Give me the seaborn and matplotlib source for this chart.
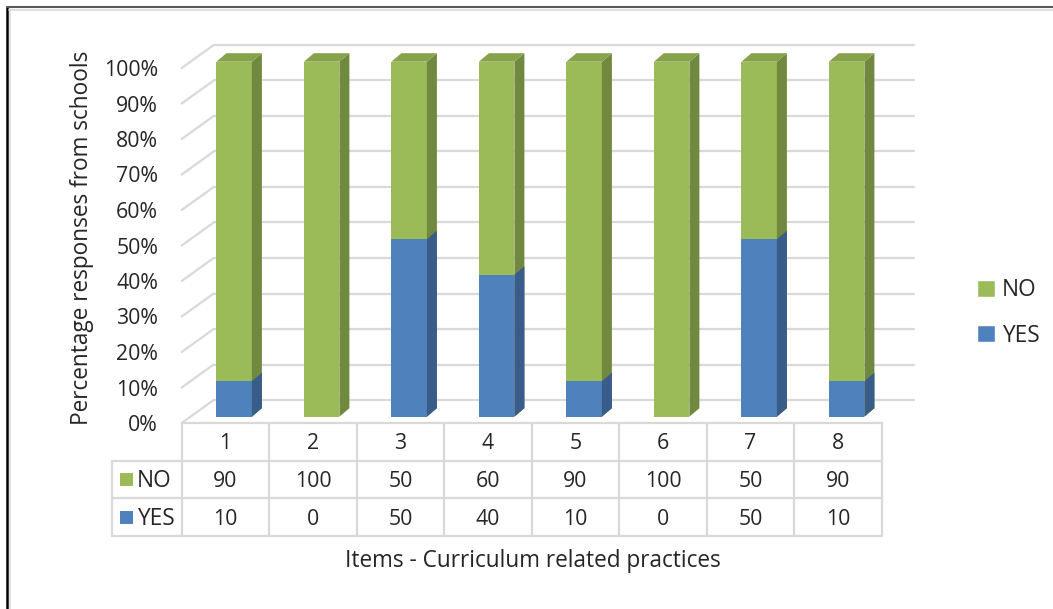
import matplotlib
matplotlib.use("Agg")
import matplotlib.pyplot as plt
import seaborn as sns
import pandas as pd
from matplotlib.patches import Polygon, Patch, Rectangle
from matplotlib.lines import Line2D

# data
items = ['1', '2', '3', '4', '5', '6', '7', '8']
no_pct = [90, 100, 50, 60, 90, 100, 50, 90]
yes_pct = [10, 0, 50, 40, 10, 0, 50, 10]
y_ticks = [0, 10, 20, 30, 40, 50, 60, 70, 80, 90, 100]

GREEN, GREEN_SIDE, GREEN_TOP = '#9BBB59', '#71893F', '#86A34C'
BLUE, BLUE_SIDE, BLUE_TOP = '#4F81BD', '#385D8A', '#4573AB'
GRID = '#D9D9D9'
FS_NUM = 15.3   # numbers (ticks, table cells)
FS_TXT = 16.3   # words (labels, legend)

W, H = 1053, 609
sns.set_theme(style='white')
plt.rcParams['font.family'] = ['Open Sans', 'DejaVu Sans']

fig = plt.figure(figsize=(W / 100, H / 100), dpi=100)

# front plane of the 3d box (pixels, from top left)
x0, x1 = 181.7, 881.7
y0, y1 = 423, 68
ax = fig.add_axes([x0 / W, (H - y0) / H, (x1 - x0) / W, (y0 - y1) / H])
px_x = (x1 - x0) / 8
px_y = (y0 - y1) / 100


def off(dx_px, dy_px):
    return dx_px / px_x, dy_px / px_y


df = pd.DataFrame({'item': items, 'NO': no_pct, 'YES': yes_pct})
df['total'] = df['NO'] + df['YES']

bw = 35.5 / px_x
sns.barplot(data=df, x='item', y='total', color=GREEN, width=bw, saturation=1, ax=ax)
sns.barplot(data=df, x='item', y='YES', color=BLUE, width=bw, saturation=1, ax=ax)
ax.set_xlim(-0.5, 7.5)
ax.set_ylim(0, 100)

# back wall gridlines
bx, by = off(32, 23)
for v in y_ticks:
    ax.plot([-0.5, -0.5 + bx], [v, v + by], color=GRID, lw=1.6, clip_on=False, zorder=0)
    ax.plot([-0.5 + bx, 7.5 + bx], [v + by, v + by], color=GRID, lw=1.6, clip_on=False, zorder=0)

# push bars into the middle of the box and give them depth
sx, sy = off(8.7, 6.3)
dx, dy = off(10, 8.5)
n = len(items)
for k, p in enumerate(list(ax.patches)):
    if p.get_height() <= 0:
        p.remove()
        continue
    p.set_x(p.get_x() + sx)
    p.set_y(p.get_y() + sy)
    p.set_clip_on(False)
    p.set_edgecolor('none')
    p.set_zorder(3)
    xl = p.get_x()
    xr = xl + p.get_width()
    yb = p.get_y()
    yt = yb + p.get_height()
    green = k < n
    side = Polygon([(xr, yb), (xr + dx, yb + dy), (xr + dx, yt + dy), (xr, yt)],
                   closed=True, facecolor=GREEN_SIDE if green else BLUE_SIDE,
                   edgecolor='none', clip_on=False, zorder=3)
    ax.add_patch(side)
    if green:
        top = Polygon([(xl, yt), (xl + dx, yt + dy), (xr + dx, yt + dy), (xr, yt)],
                      closed=True, facecolor=GREEN_TOP, edgecolor='none',
                      clip_on=False, zorder=3)
        ax.add_patch(top)

ax.set_xticks([])
ax.set_xlabel('')
ax.set_yticks(y_ticks, labels=[f'{t}%' for t in y_ticks], fontsize=FS_NUM)
ax.tick_params(axis='y', length=0, pad=17)
ax.set_ylabel('Percentage responses from schools', fontsize=FS_TXT)
ax.yaxis.set_label_coords((94 - x0) / (x1 - x0), (y0 - 237.5) / (y0 - y1))
sns.despine(ax=ax, left=True, bottom=True)
ax.set_facecolor('none')

# data table under the plot
tx0 = 111.7
ty1 = 536
tab = fig.add_axes([tx0 / W, (H - ty1) / H, (x1 - tx0) / W, (ty1 - y0) / H])
xl_tab = -0.5 - (x0 - tx0) / px_x
tab.set_xlim(xl_tab, 7.5)
tab.set_ylim(3, 0)
tab.axis('off')
lw_t = 1.6
tab.plot([-0.5, 7.5], [0, 0], color=GRID, lw=lw_t, clip_on=False)
for r in (1, 2, 3):
    tab.plot([xl_tab, 7.5], [r, r], color=GRID, lw=lw_t, clip_on=False)
for i in range(n + 1):
    tab.plot([i - 0.5, i - 0.5], [0, 3], color=GRID, lw=lw_t, clip_on=False)
tab.plot([xl_tab, xl_tab], [1, 3], color=GRID, lw=lw_t, clip_on=False)

for i, it in enumerate(items):
    tab.text(i, 0.55, it, ha='center', va='center', fontsize=FS_NUM)
    tab.text(i, 1.55, str(no_pct[i]), ha='center', va='center', fontsize=FS_NUM)
    tab.text(i, 2.55, str(yes_pct[i]), ha='center', va='center', fontsize=FS_NUM)

sw_w = 13 / px_x
sw_h = 13 / ((ty1 - y0) / 3)
for r, (lab, col) in enumerate([('NO', GREEN), ('YES', BLUE)], start=1):
    sx0 = xl_tab + (120 - tx0) / px_x
    tab.add_patch(Rectangle((sx0, r + 0.5 - sw_h / 2), sw_w, sw_h, facecolor=col,
                            edgecolor='none', clip_on=False))
    tab.text(xl_tab + (137 - tx0) / px_x, r + 0.55, lab, ha='left', va='center', fontsize=FS_TXT)

fig.text(533 / W, 1 - 561 / H, 'Items - Curriculum related practices',
         ha='center', va='center', fontsize=FS_TXT)

handles = [Patch(facecolor=GREEN, label='NO'), Patch(facecolor=BLUE, label='YES')]
fig.legend(handles=handles, loc='upper left', bbox_to_anchor=(968 / W, 1 - 269 / H),
           frameon=False, handlelength=0.8, handleheight=0.8, handletextpad=0.3,
           labelspacing=0.95, fontsize=FS_TXT, borderaxespad=0)

# outer frame (left and top edges only)
fig.add_artist(Line2D([7 / W, 7 / W], [0, 1 - 7 / H], color='black', lw=1.8))
fig.add_artist(Line2D([9.5 / W, 9.5 / W], [0, 1 - 9 / H], color=GRID, lw=1.2))
fig.add_artist(Line2D([7 / W, 1], [1 - 7 / H, 1 - 7 / H], color='#595959', lw=1.5))
fig.add_artist(Line2D([9 / W, 1], [1 - 9.5 / H, 1 - 9.5 / H], color=GRID, lw=1.2))

fig.savefig('out.png', dpi=100)
